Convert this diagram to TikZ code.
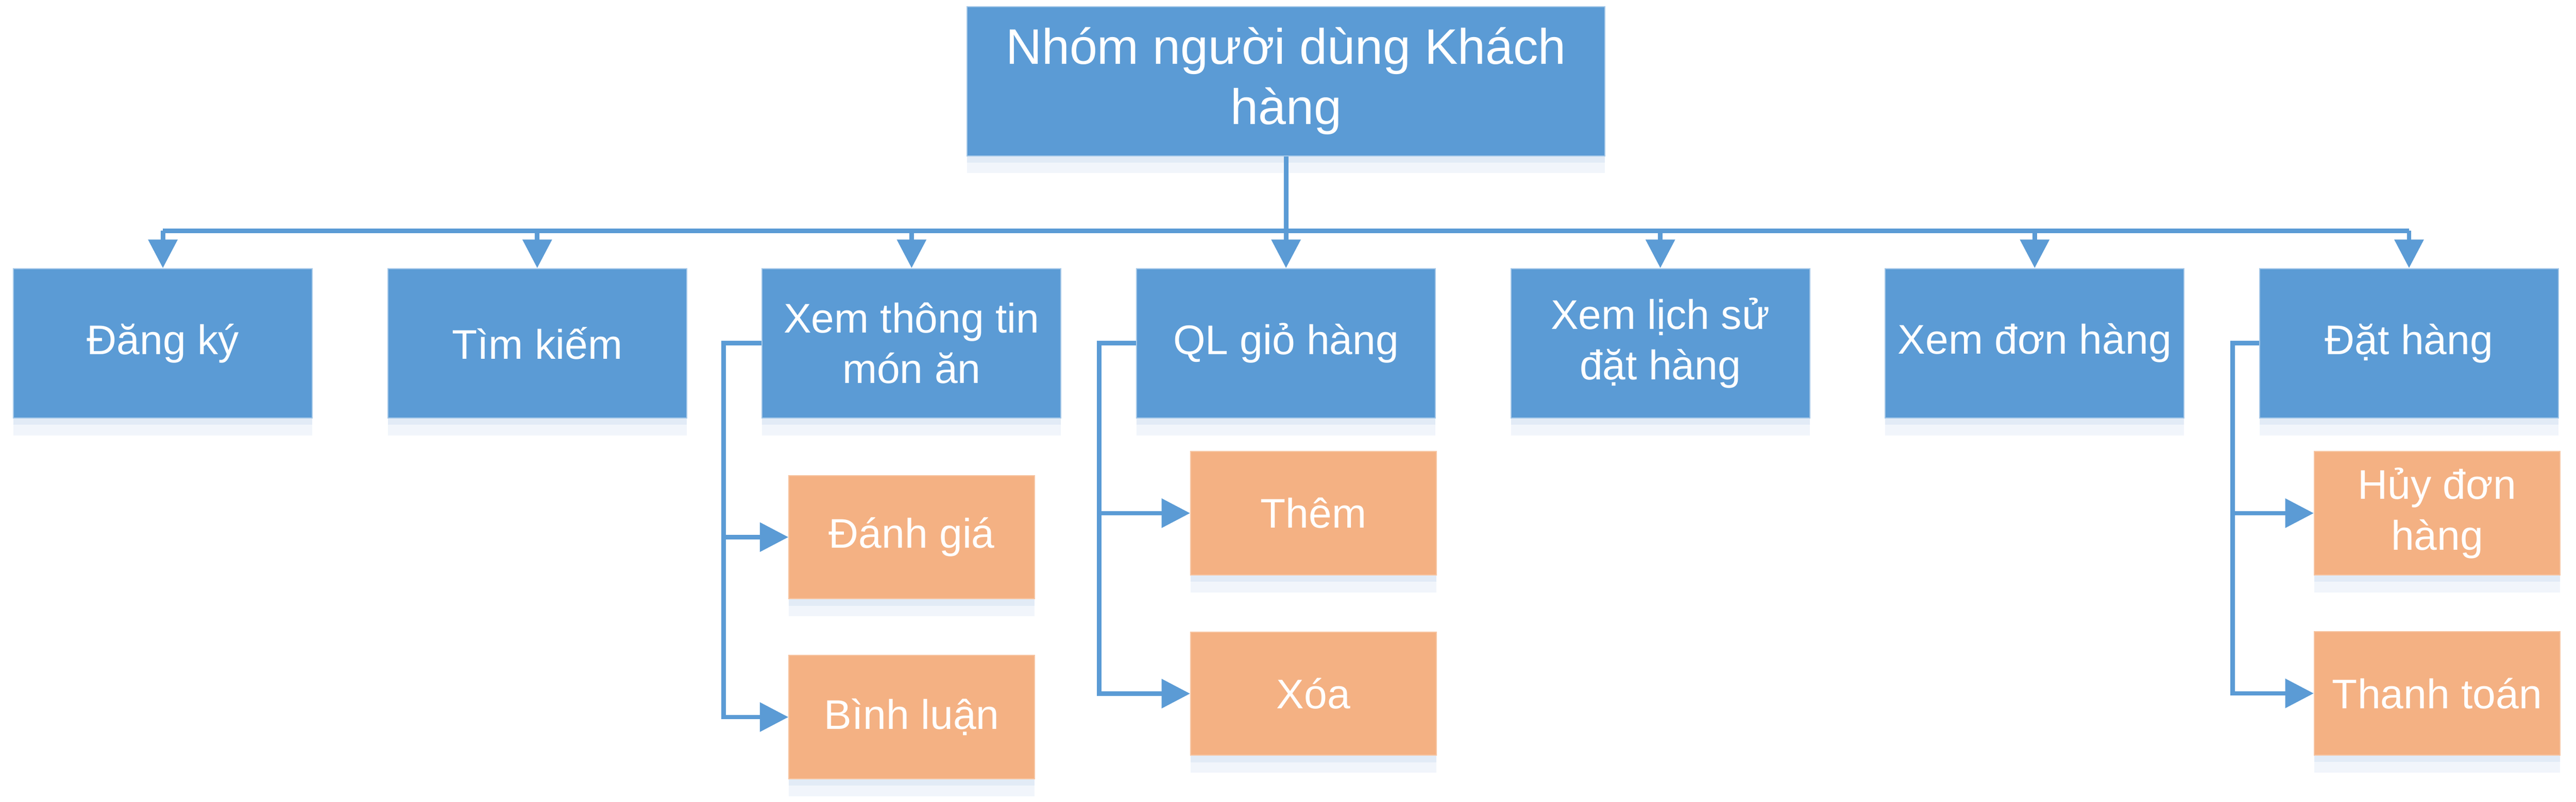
\documentclass[tikz,border=0pt]{standalone}
\usepackage{fontspec}
\setmainfont{Liberation Sans}
\usetikzlibrary{arrows.meta,shadows}
\definecolor{boxblue}{HTML}{5B9BD5}
\definecolor{boxorange}{HTML}{F4B183}
\definecolor{shadowblue}{HTML}{E2EBF6}
\definecolor{shadowlight}{HTML}{F1F5FB}
\begin{document}
\begin{tikzpicture}[
    mainbox/.style={fill=boxblue, draw=boxblue!55!white, line width=0.6pt, text=white,
        minimum width=5.98cm, minimum height=2.99cm, inner sep=0pt,
        general shadow={fill=shadowlight, shadow yshift=-0.35cm},
        general shadow={fill=shadowblue, shadow yshift=-0.14cm},
        font=\fontsize{23.6}{28.8}\selectfont},
    subbox/.style={mainbox, fill=boxorange, draw=boxorange!75!white,
        minimum width=4.92cm, minimum height=2.47cm},
    link/.style={draw=boxblue, line width=0.09cm},
    arrowline/.style={link, -{Triangle[length=0.57cm, width=0.57cm]}},
    every node/.style={align=center}
]
\useasboundingbox (0,0) rectangle (51.56,-16.06);
\node[mainbox, minimum width=12.76cm, font=\fontsize{28.45}{34.2}\selectfont] (root) at (25.74,-1.625) {Nhóm người dùng Khách\\hàng};
\node[mainbox] (dangky) at (3.26,-6.875) {Đăng ký};
\node[mainbox] (timkiem) at (10.753,-6.875) {Tìm kiếm};
\node[mainbox] (xemtt) at (18.246,-6.875) {Xem thông tin\\món ăn};
\node[mainbox] (qlgio) at (25.74,-6.875) {QL giỏ hàng};
\node[mainbox] (lichsu) at (33.232,-6.875) {Xem lịch sử\\đặt hàng};
\node[mainbox] (xemdon) at (40.725,-6.875) {Xem đơn hàng};
\node[mainbox] (dathang) at (48.218,-6.875) {Đặt hàng};
\node[subbox] (danhgia) at (18.25,-10.76) {Đánh giá};
\node[subbox] (binhluan) at (18.25,-14.365) {Bình luận};
\node[subbox] (them) at (26.29,-10.28) {Thêm};
\node[subbox] (xoa) at (26.29,-13.895) {Xóa};
\node[subbox] (huy) at (48.78,-10.28) {Hủy đơn\\hàng};
\node[subbox] (thanhtoan) at (48.78,-13.89) {Thanh toán};
\coordinate (bus) at (0,-4.625);
\draw[arrowline] (root.south) -- (qlgio.north);
\draw[link] (dangky |- bus) -- (dathang |- bus);
\foreach \n in {dangky,timkiem,xemtt,lichsu,xemdon,dathang}
    \draw[arrowline] (\n |- bus) -- (\n.north);
\foreach \n in {danhgia,binhluan}
    \draw[arrowline] (xemtt.west) -- ++(-0.76,0) |- (\n.west);
\foreach \n in {them,xoa}
    \draw[arrowline] (qlgio.west) -- ++(-0.74,0) |- (\n.west);
\foreach \n in {huy,thanhtoan}
    \draw[arrowline] (dathang.west) -- ++(-0.53,0) |- (\n.west);
\end{tikzpicture}
\end{document}
